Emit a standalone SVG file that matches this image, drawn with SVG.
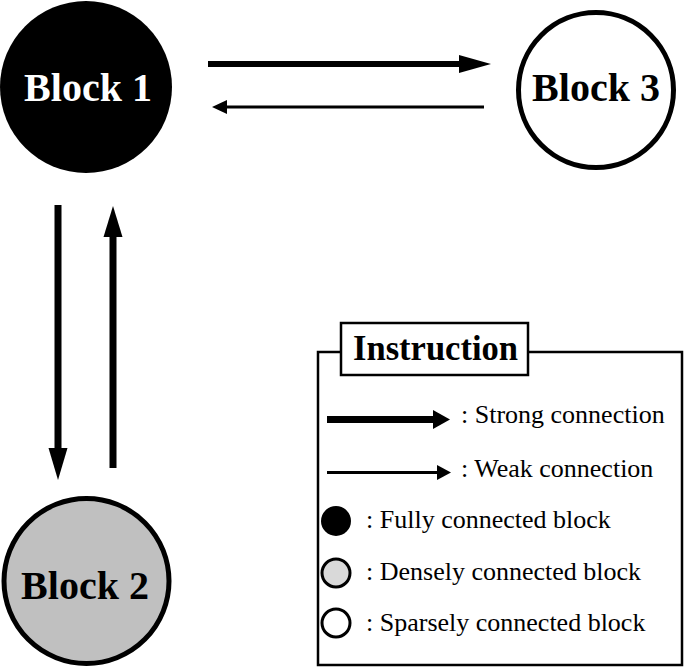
<svg xmlns="http://www.w3.org/2000/svg" width="685" height="669" viewBox="0 0 685 669">
<style>
.blk{font-family:"Liberation Serif","Times New Roman",serif;font-weight:bold;font-size:40px;text-anchor:middle}
.leg{font-family:"Liberation Serif","Times New Roman",serif;font-size:26px}
.ttl{font-family:"Liberation Serif","Times New Roman",serif;font-weight:bold;font-size:36px}
.ln{stroke:#000;fill:none}
.hd{fill:#000;stroke:none}
</style>
<rect width="685" height="669" fill="#fff"/>
<g id="block1">
<circle cx="86" cy="87" r="86" fill="#000"/>
<text class="blk" x="88" y="101" fill="#fff">Block 1</text>
</g>
<g id="block3">
<circle cx="596" cy="90" r="77.5" fill="#fff" stroke="#000" stroke-width="5"/>
<text class="blk" x="596" y="101" fill="#000">Block 3</text>
</g>
<g id="block2">
<circle cx="86.5" cy="581" r="82.5" fill="#c0c0c0" stroke="#000" stroke-width="5"/>
<text class="blk" x="85" y="599" fill="#000">Block 2</text>
</g>
<g id="connectors">
<line class="ln" x1="208" y1="64" x2="460" y2="64" stroke-width="6"/>
<polygon class="hd" points="459,55 491,64 459,73"/>
<line class="ln" x1="226" y1="107" x2="484" y2="107" stroke-width="3"/>
<polygon class="hd" points="227,100 212,107 227,114"/>
<line class="ln" x1="58" y1="205" x2="58" y2="449" stroke-width="7"/>
<polygon class="hd" points="48.5,448 67.5,448 58,480"/>
<line class="ln" x1="113" y1="468" x2="113" y2="236" stroke-width="7"/>
<polygon class="hd" points="103.5,237 122.5,237 113,206"/>
</g>
<g id="legend">
<rect x="318" y="352" width="364" height="313" fill="#fff" stroke="#000" stroke-width="2.5"/>
<rect x="341" y="323" width="187" height="52" fill="#fff" stroke="#000" stroke-width="2.5"/>
<text class="ttl" x="353" y="360" textLength="165" lengthAdjust="spacingAndGlyphs">Instruction</text>
<line class="ln" x1="327" y1="419.5" x2="434" y2="419.5" stroke-width="7"/>
<polygon class="hd" points="433,410 450,419.5 433,429"/>
<text class="leg" x="461" y="423">: Strong connection</text>
<line class="ln" x1="327" y1="472.5" x2="438" y2="472.5" stroke-width="3"/>
<polygon class="hd" points="437,465 451,472.5 437,480"/>
<text class="leg" x="461" y="477">: Weak connection</text>
<circle cx="336" cy="521" r="15" fill="#000"/>
<text class="leg" x="366" y="528">: Fully connected block</text>
<circle cx="336" cy="573" r="14" fill="#d9d9d9" stroke="#000" stroke-width="3"/>
<text class="leg" x="366" y="580">: Densely connected block</text>
<circle cx="336" cy="623" r="14" fill="#fff" stroke="#000" stroke-width="3"/>
<text class="leg" x="366" y="631">: Sparsely connected block</text>
</g>
</svg>
